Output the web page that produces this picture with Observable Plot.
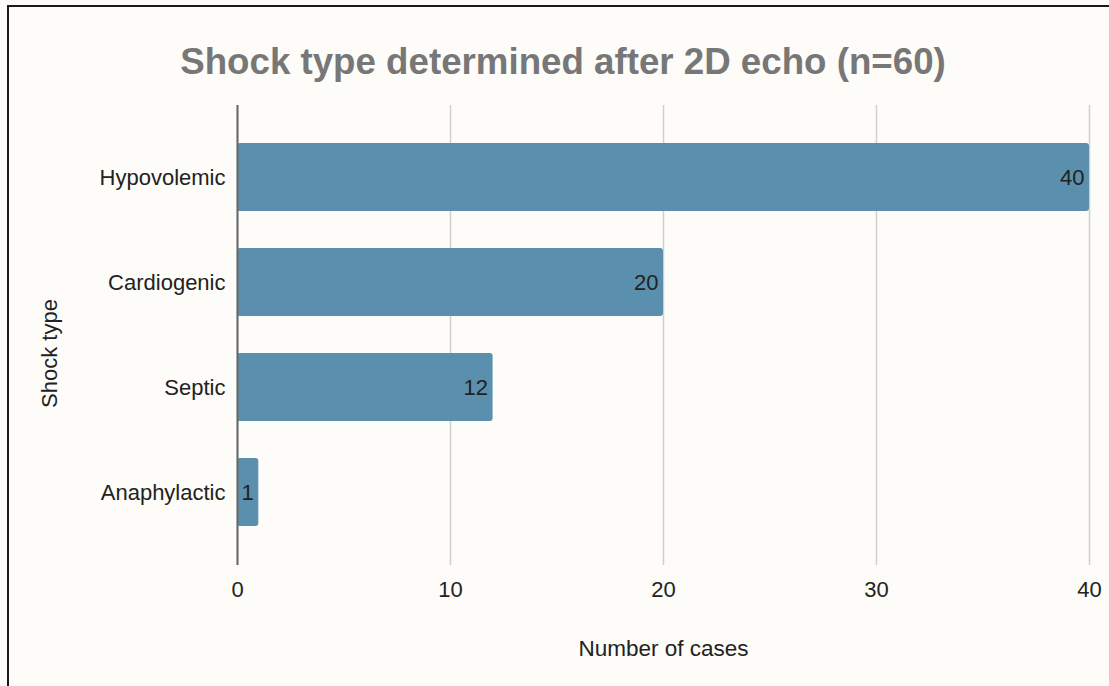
<!DOCTYPE html>
<html>
<head>
<meta charset="utf-8">
<script src="https://cdn.jsdelivr.net/npm/d3@7"></script>
<script src="https://cdn.jsdelivr.net/npm/@observablehq/plot@0.6"></script>
<style>
  html, body { margin: 0; padding: 0; background: #fdfcf8; overflow: hidden; }
  body { width: 1109px; height: 686px; position: relative; font-family: "Liberation Sans", Arial, sans-serif; }
  #frame { position: absolute; left: 7px; top: 5px; width: 1300px; height: 900px;
           border-left: 2px solid #1a1a1a; border-top: 2px solid #1a1a1a; pointer-events: none; }
  #title { box-sizing: border-box; height: 90px; padding-top: 44px; padding-left: 17px;
           text-align: center; font-size: 36.7px; line-height: 36px; font-weight: bold; color: #777; white-space: nowrap; }
  #chart svg { display: block; }
</style>
</head>
<body>
<div id="title">Shock type determined after 2D echo (n=60)</div>
<div id="chart"></div>
<div id="frame"></div>
<script>
const categories = ["Hypovolemic", "Cardiogenic", "Septic", "Anaphylactic"];
const counts = [40, 20, 12, 1];
const xTicks = [0, 10, 20, 30, 40];
const xLabel = "Number of cases";
const yLabel = "Shock type";

const data = categories.map((c, i) => ({type: c, count: counts[i]}));

const chart = Plot.plot({
  width: 1109,
  height: 596,
  marginLeft: 237,
  marginRight: 20,
  marginTop: 15,
  marginBottom: 121,
  style: {background: "transparent", fontFamily: "'Liberation Sans', Arial, sans-serif", fontSize: "22px", color: "#222"},
  x: {domain: [0, 40], ticks: xTicks, label: null},
  y: {domain: categories, padding: 0.35, label: null},
  marks: [
    Plot.gridX(xTicks, {stroke: "#cfcfcf", strokeOpacity: 1, strokeWidth: 1.5}),
    Plot.barX(data, {x: "count", y: "type", fill: "#5a90ae", rx: 3}),
    Plot.ruleX([0], {stroke: "#666", strokeWidth: 2}),
    Plot.text(data, {x: "count", y: "type", text: d => String(d.count), textAnchor: "end", dx: -5, fill: "#222"}),
    Plot.axisX({ticks: xTicks, tickSize: 0, tickPadding: 16, label: null, fill: "#222"}),
    Plot.axisY({tickSize: 0, tickPadding: 12, label: null, fill: "#222"}),
    Plot.text([xLabel], {frameAnchor: "bottom", text: d => d, textAnchor: "middle", lineAnchor: "middle", dy: 83, fill: "#222", fontSize: "22.5px"}),
    Plot.text([yLabel], {frameAnchor: "left", text: d => d, textAnchor: "middle", lineAnchor: "middle", rotate: -90, dx: -188, dy: 18, fill: "#222"})
  ]
});
document.getElementById("chart").appendChild(chart);
</script>
</body>
</html>
